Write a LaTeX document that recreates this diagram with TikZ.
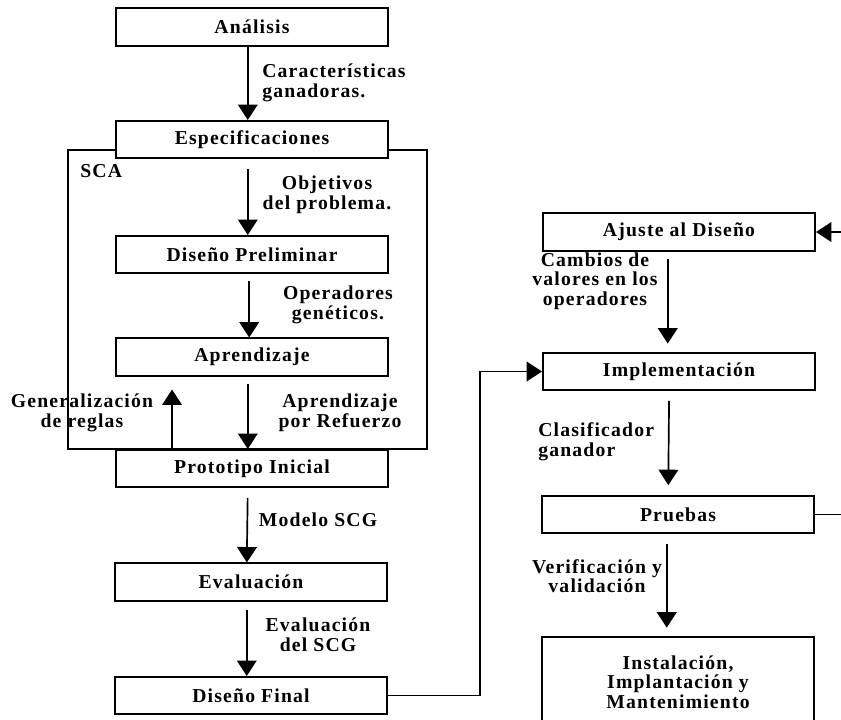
\documentclass[tikz,border=0pt]{standalone}
\usepackage{fontspec}
\setmainfont{Liberation Serif}[LetterSpace=6]
\usetikzlibrary{arrows.meta,calc}
\begin{document}
\begin{tikzpicture}[x=0.025cm,y=-0.025cm,
  stage/.style={draw,line width=1.3pt,fill=white,minimum width=6.8cm,
    minimum height=0.93cm,inner sep=0pt,font=\bfseries\fontsize{14}{14}\selectfont},
  lbl/.style={font=\bfseries\fontsize{14}{14}\selectfont,inner sep=0pt},
  arr/.style={line width=1.2pt,-{Triangle[width=14pt,length=11pt]}},
  link/.style={line width=1.2pt}]
\useasboundingbox (0,0) rectangle (841,719);
\clip (0,0) rectangle (841,719);

% SCA frame around the learning loop
\draw[line width=1pt] (68,150) rectangle (427,449);
\node[lbl,anchor=west] (sca) at (80,171) {SCA};

% left column
\node[stage] (ana)  at (252,27)    {Análisis};
\node[stage] (esp)  at (252,139.5) {Especificaciones};
\node[stage] (dp)   at (252,254.5) {Diseño Preliminar};
\node[stage] (apr)  at (252,357)   {Aprendizaje};
\node[stage] (pro)  at (252,468.5) {Prototipo Inicial};
\node[stage] (eva)  at (251,582)   {Evaluación};
\node[stage] (dfin) at (251,695.5) {Diseño Final};

% right column
\node[stage] (aju)  at (679,232)   {Ajuste al Diseño};
\node[stage] (imp)  at (679,371.5) {Implementación};
\node[stage] (pru)  at (678,514.5) {Pruebas};
\node[stage,minimum height=2.25cm,align=center] (ins) at (678,682)
  {Instalación,\\Implantación y\\Mantenimiento};

% vertical flow, left column
\draw[arr] ([xshift=-3pt]ana.south) -- ([xshift=-3pt]esp.north);
\draw[arr,shorten <=7pt] ([xshift=-3pt]esp.south) -- ([xshift=-3pt]dp.north);
\draw[arr,shorten <=5pt] ([xshift=-2pt]dp.south) -- ([xshift=-2pt]apr.north);
\draw[arr,shorten <=5pt] ([xshift=-3pt]apr.south) -- ([xshift=-3pt]pro.north);
\draw[arr] (pro.north west) ++(57,0) -- ($(apr.south west)+(57,13)$);
\draw[arr,shorten <=7pt] ([xshift=-3pt]pro.south) -- ([xshift=-3pt]eva.north);
\draw[arr,shorten <=6pt] ([xshift=-3pt]eva.south) -- ([xshift=-3pt]dfin.north);

% vertical flow, right column
\draw[arr,shorten <=5pt,shorten >=6pt] ([xshift=-8pt]aju.south) -- ([xshift=-8pt]imp.north);
\draw[arr,shorten <=7pt,shorten >=7pt] ([xshift=-7pt]imp.south) -- ([xshift=-7pt]pru.north);
\draw[arr,shorten <=7pt,shorten >=6pt] ([xshift=-8pt]pru.south) -- ([xshift=-8pt]ins.north);

% cross links
\coordinate (jx) at (480,0);
\coordinate (rx) at (850,0);
\draw[arr] (dfin.east) -| (jx |- imp.west) -- (imp.west);
\draw[arr] (pru.east) -| (rx |- aju.east) -- (aju.east);

% flow labels
\node[lbl,anchor=west,align=left] (l1) at (262,83) {Características\\ganadoras.};
\node[lbl,align=center] (l2) at (327,195) {Objetivos\\del problema.};
\node[lbl,align=center] (l3) at (338,305) {Operadores\\genéticos.};
\node[lbl,align=center] (l4) at (340,413) {Aprendizaje\\por Refuerzo};
\node[lbl,align=center] (l5) at (82,413) {Generalización\\de reglas};
\node[lbl] (l6) at (318,520) {Modelo SCG};
\node[lbl,align=center] (l7) at (318,635) {Evaluación\\del SCG};
\node[lbl,align=center] (l8) at (595,281) {Cambios de\\valores en los\\operadores};
\node[lbl,anchor=west,align=left] (l9) at (538,442) {Clasificador\\ganador};
\node[lbl,align=center] (l10) at (597,576) {Verificación y\\validación};
\end{tikzpicture}
\end{document}
